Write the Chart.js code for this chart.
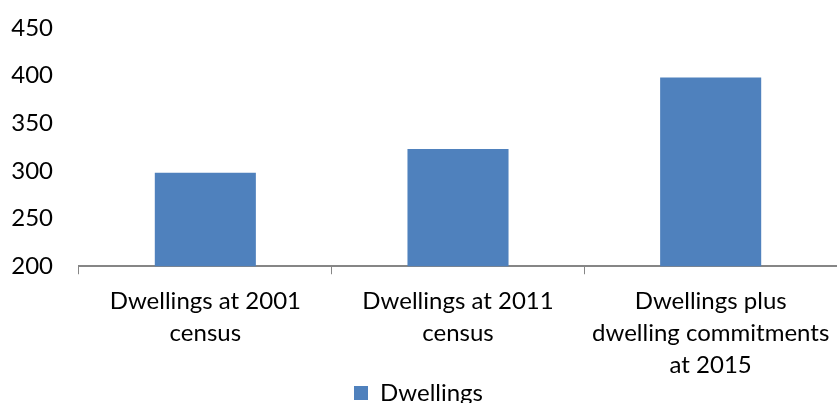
<!DOCTYPE html>
<html>
<head>
<meta charset="utf-8">
<script src="https://cdn.jsdelivr.net/npm/chart.js@4"></script>
<style>
  html, body { margin: 0; padding: 0; background: #fff; }
  #wrap { width: 837px; height: 403px; }
</style>
</head>
<body>
<div id="wrap"><canvas id="grafica"></canvas></div>
<script>
// Datos del gráfico
const categorias = [
  ['Dwellings at 2001', 'census'],
  ['Dwellings at 2011', 'census'],
  ['Dwellings plus', 'dwelling commitments', 'at 2015']
];
const viviendas = [298, 323, 398];
const serie = 'Dwellings';

const fuente = { family: 'Lato, "Open Sans", sans-serif', size: 24 };
const gris = '#868686';

new Chart(document.getElementById('grafica').getContext('2d'), {
  type: 'bar',
  data: {
    labels: categorias,
    datasets: [{
      label: serie,
      data: viviendas,
      backgroundColor: '#4f81bd',
      borderWidth: 0,
      barPercentage: 0.4,
      categoryPercentage: 1
    }]
  },
  options: {
    responsive: true,
    maintainAspectRatio: false,
    animation: false,
    layout: { padding: { left: 0, right: 0, top: 0, bottom: -12 } },
    plugins: {
      tooltip: { enabled: false },
      legend: {
        position: 'bottom',
        labels: {
          color: '#000',
          font: fuente,
          boxWidth: 14,
          boxHeight: 14,
          padding: 0
        }
      }
    },
    scales: {
      x: {
        grid: {
          offset: true,
          drawOnChartArea: false,
          color: gris,
          tickLength: 8,
          lineWidth: 1
        },
        border: { color: gris, width: 2 },
        ticks: { color: '#000', font: Object.assign({}, fuente, { lineHeight: 1.33 }), padding: 11, maxRotation: 0 },
        afterFit: (escala) => {
          escala.height -= 11;
          escala.paddingLeft = 0;
          escala.paddingRight = 0;
        }
      },
      y: {
        min: 200,
        max: 450,
        grid: { display: false, drawTicks: false },
        border: { display: false },
        ticks: { stepSize: 50, color: '#000', font: fuente, padding: 26 },
        afterFit: (escala) => {
          // ancho fijo y sin relleno vertical extra
          escala.width = 79;
          escala.paddingTop = 28;
          escala.paddingBottom = 0;
        }
      }
    }
  }
});
</script>
</body>
</html>
